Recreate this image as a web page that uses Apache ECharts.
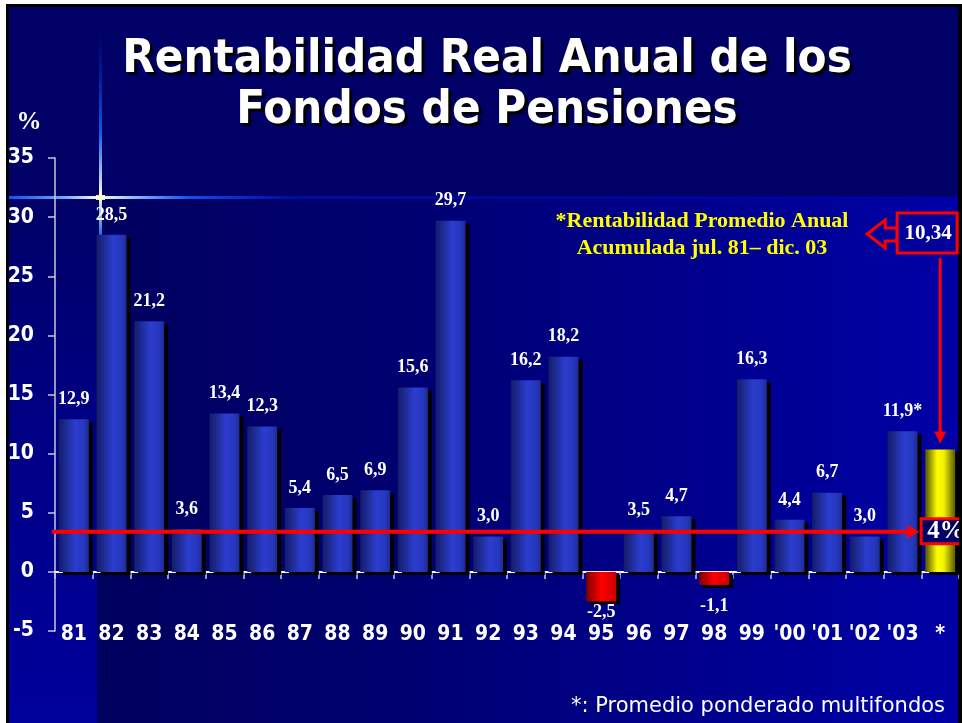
<!DOCTYPE html>
<html>
<head>
<meta charset="utf-8">
<script src="https://cdn.jsdelivr.net/npm/echarts@6/dist/echarts.min.js"></script>
<style>html,body{margin:0;padding:0;background:#fff}#c{width:962px;height:723px}</style>
</head>
<body>
<div id="c"></div>
<script>
// ---- data ----
const categories = ['81','82','83','84','85','86','87','88','89','90','91','92','93','94','95','96','97','98','99',"'00","'01","'02","'03",'*'];
const values = [12.9, 28.5, 21.2, 3.6, 13.4, 12.3, 5.4, 6.5, 6.9, 15.6, 29.7, 3.0, 16.2, 18.2, -2.5, 3.5, 4.7, -1.1, 16.3, 4.4, 6.7, 3.0, 11.9, 10.34];
const valueLabels = ['12,9','28,5','21,2','3,6','13,4','12,3','5,4','6,5','6,9','15,6','29,7','3,0','16,2','18,2','-2,5','3,5','4,7','-1,1','16,3','4,4','6,7','3,0','11,9*',''];
const averageLabel = '10,34';
const refLineValue = 3.4;
const refLineLabel = '4%';
const titleLines = ['Rentabilidad Real Anual de los', 'Fondos de Pensiones'];
const noteLines = ['*Rentabilidad Promedio Anual', 'Acumulada jul. 81\u2013 dic. 03'];
const footnote = '*: Promedio ponderado multifondos';
const yMin = -5, yMax = 35, yStep = 5;

// ---- styles ----
const grad = (stops) => new echarts.graphic.LinearGradient(0, 0, 1, 0, stops.map((c) => ({offset: c[0], color: c[1]})));
const blueGrad = grad([[0,'#141c66'],[0.55,'#2b3dcf'],[0.85,'#2636bc'],[1,'#1c2a90']]);
const redGrad = grad([[0,'#7a0000'],[0.5,'#ff0000'],[1,'#c80000']]);
const yellowGrad = grad([[0,'#505000'],[0.4,'#ffff00'],[0.62,'#f2f200'],[1,'#5a5a00']]);
const narrow = "'Liberation Sans Narrow','DejaVu Sans Condensed','Liberation Sans',sans-serif";
const serif = "'Liberation Serif','Times New Roman',serif";
const tahoma = "'DejaVu Sans',sans-serif";
const titleFont = "bold 47px 'DejaVu Sans Condensed','DejaVu Sans',sans-serif";

const seriesData = values.map((v, i) => {
  const last = i === values.length - 1;
  const neg = v < 0;
  return {
    value: v,
    itemStyle: {color: last ? yellowGrad : (neg ? redGrad : blueGrad)},
    label: neg ? {position: 'bottom', distance: v < -2 ? 2 : 12} : {position: 'top', distance: 11}
  };
});

const chart = echarts.init(document.getElementById('c'), null, {renderer: 'canvas'});

const bgGraphics = [
  {type: 'rect', z: -30, shape: {x: 6, y: 4, width: 956, height: 719}, style: {fill: '#000000'}},
  {type: 'rect', z: -29, shape: {x: 9, y: 7, width: 949, height: 716}, style: {fill: '#000066'}},
  {type: 'rect', z: -28, shape: {x: 97, y: 197, width: 861, height: 526},
    style: {fill: new echarts.graphic.LinearGradient(0, 0, 1, 0, [{offset: 0, color: '#00005e'}, {offset: 0.35, color: '#000070'}, {offset: 1, color: '#0000a6'}])}},
  {type: 'rect', z: -28, shape: {x: 9, y: 197, width: 88, height: 526},
    style: {fill: new echarts.graphic.LinearGradient(0, 0, 0, 1, [{offset: 0, color: '#000066'}, {offset: 0.5, color: '#000088'}, {offset: 1, color: '#00009c'}])}},
  // sparkle
  {type: 'rect', z: -27, shape: {x: 9, y: 196, width: 949, height: 3},
    style: {fill: new echarts.graphic.LinearGradient(0, 0, 1, 0, [{offset: 0, color: 'rgba(20,90,255,0.9)'}, {offset: 0.06, color: 'rgba(120,170,255,1)'}, {offset: 0.095, color: 'rgba(255,255,220,1)'}, {offset: 0.14, color: 'rgba(120,170,255,1)'}, {offset: 0.19, color: 'rgba(20,90,255,0.9)'}, {offset: 0.3, color: 'rgba(0,20,200,0.6)'}, {offset: 1, color: 'rgba(0,0,190,0.25)'}])}},
  {type: 'rect', z: -27, shape: {x: 99, y: 30, width: 3, height: 205},
    style: {fill: new echarts.graphic.LinearGradient(0, 0, 0, 1, [{offset: 0, color: 'rgba(0,40,200,0)'}, {offset: 0.5, color: 'rgba(20,100,255,0.9)'}, {offset: 0.81, color: 'rgba(255,255,220,1)'}, {offset: 1, color: 'rgba(40,120,255,0.9)'}])}},
  {type: 'rect', z: -26, shape: {x: 96, y: 195, width: 9, height: 5}, style: {fill: 'rgba(255,255,210,0.9)'}},
  // title
  {type: 'text', z: 10, x: 487, y: 60, style: {text: titleLines[0], fill: '#ffffff', font: titleFont, align: 'center', verticalAlign: 'middle', textShadowColor: '#000000', textShadowOffsetX: 3, textShadowOffsetY: 3, textShadowBlur: 1}},
  {type: 'text', z: 10, x: 487, y: 111, style: {text: titleLines[1], fill: '#ffffff', font: titleFont, align: 'center', verticalAlign: 'middle', textShadowColor: '#000000', textShadowOffsetX: 3, textShadowOffsetY: 3, textShadowBlur: 1}},
  {type: 'text', z: 10, x: 29, y: 123, style: {text: '%', fill: '#ffffff', font: 'bold 25px ' + serif, align: 'center', verticalAlign: 'middle'}},
  // note
  {type: 'text', z: 10, x: 702, y: 221, style: {text: noteLines[0], fill: '#ffff00', font: 'bold 22px ' + serif, align: 'center', verticalAlign: 'middle'}},
  {type: 'text', z: 10, x: 702, y: 248, style: {text: noteLines[1], fill: '#ffff00', font: 'bold 22px ' + serif, align: 'center', verticalAlign: 'middle'}},
  // footnote
  {type: 'text', z: 10, x: 945, y: 707, style: {text: footnote, fill: '#ffffff', font: '21px ' + tahoma, align: 'right', verticalAlign: 'middle'}}
];

chart.setOption({
  backgroundColor: '#ffffff',
  animation: false,
  grid: {left: 55, right: 3, top: 158, bottom: 92, containLabel: false},
  xAxis: [
    {type: 'category', data: categories, gridIndex: 0, position: 'bottom',
      axisLine: {onZero: true, lineStyle: {color: '#ffffff', width: 2}},
      axisTick: {show: true, length: 7, inside: false, lineStyle: {color: '#c8c8d8', width: 1.5}},
      axisLabel: {show: false}, splitLine: {show: false}},
    {type: 'category', data: categories, gridIndex: 0, position: 'bottom',
      axisLine: {show: false, onZero: false}, axisTick: {show: false},
      axisLabel: {show: true, color: '#ffffff', fontFamily: narrow, fontWeight: 'bold', fontSize: 21, margin: -7, interval: 0},
      splitLine: {show: false}}
  ],
  yAxis: {type: 'value', min: yMin, max: yMax, interval: yStep,
    axisLine: {show: true, onZero: false, lineStyle: {color: '#c8c8d8', width: 1.5}},
    axisTick: {show: true, length: 7, lineStyle: {color: '#c8c8d8', width: 1.5}},
    axisLabel: {color: '#ffffff', fontFamily: narrow, fontWeight: 'bold', fontSize: 21, margin: 21},
    splitLine: {show: false}},
  series: [{
    type: 'bar', xAxisIndex: 0, yAxisIndex: 0, data: seriesData, barWidth: 30,
    itemStyle: {shadowColor: '#000000', shadowBlur: 0, shadowOffsetX: 4, shadowOffsetY: 3},
    label: {show: true, color: '#ffffff', fontFamily: serif, fontWeight: 'bold', fontSize: 18,
      formatter: (p) => valueLabels[p.dataIndex]}
  }],
  graphic: bgGraphics
});

// annotations positioned through the chart's own scales
const lastCat = categories[categories.length - 1];
const lastVal = values[values.length - 1];
const refPt = chart.convertToPixel({gridIndex: 0}, [categories[0], refLineValue]);
const lastTop = chart.convertToPixel({gridIndex: 0}, [lastCat, lastVal]);
const lx = lastTop[0];
const ry = refPt[1];
const red = '#ff0000';
const boxFill = '#00009a';

const ann = [
  // reference line with arrow
  {type: 'line', z: 20, shape: {x1: 52, y1: ry, x2: lx - 30, y2: ry}, style: {stroke: red, lineWidth: 4}},
  {type: 'polygon', z: 20, shape: {points: [[lx - 33, ry - 7], [lx - 21, ry], [lx - 33, ry + 7]]}, style: {fill: red}},
  {type: 'rect', z: 20, shape: {x: lx - 19, y: ry - 13, width: 50, height: 25}, style: {fill: '#000066', stroke: red, lineWidth: 3}},
  {type: 'text', z: 21, x: lx - 13, y: ry, style: {text: refLineLabel, fill: '#ffffff', font: 'bold 25px ' + serif, align: 'left', verticalAlign: 'middle'}},
  // average box and arrows
  {type: 'polygon', z: 20, shape: {points: [[lx - 73, 234], [lx - 55, 220], [lx - 55, 228], [lx - 43, 228], [lx - 43, 241], [lx - 55, 241], [lx - 55, 248]]}, style: {fill: boxFill, stroke: red, lineWidth: 3}},
  {type: 'rect', z: 21, shape: {x: lx - 43, y: 213, width: 60, height: 40}, style: {fill: boxFill, stroke: red, lineWidth: 3}},
  {type: 'text', z: 22, x: lx - 12, y: 234, style: {text: averageLabel, fill: '#ffffff', font: 'bold 21px ' + serif, align: 'center', verticalAlign: 'middle'}},
  {type: 'line', z: 20, shape: {x1: lx, y1: 258, x2: lx, y2: lastTop[1] - 16}, style: {stroke: red, lineWidth: 3}},
  {type: 'polygon', z: 20, shape: {points: [[lx - 6, lastTop[1] - 18], [lx + 6, lastTop[1] - 18], [lx, lastTop[1] - 6]]}, style: {fill: red}},
  // right border
  {type: 'rect', z: 30, shape: {x: 959, y: 4, width: 3, height: 719}, style: {fill: '#000000'}}
];
chart.setOption({graphic: bgGraphics.concat(ann)});
</script>
</body>
</html>
